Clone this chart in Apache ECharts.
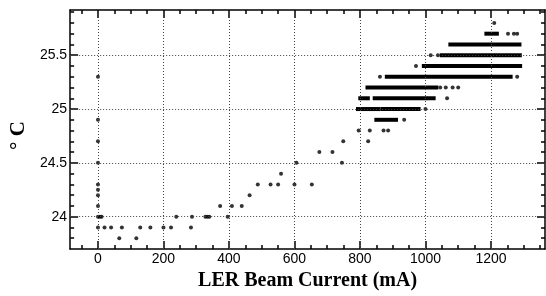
<!DOCTYPE html>
<html>
<head>
<meta charset="utf-8">
<script src="https://cdn.jsdelivr.net/npm/echarts@6/dist/echarts.min.js"></script>
<style>
  html, body { margin: 0; padding: 0; background: #fff; }
  #chart { width: 546px; height: 296px; }
</style>
</head>
<body>
<div id="chart"></div>
<script>
// tick positions
const majorX = [0, 200, 400, 600, 800, 1000, 1200];
const minorX = [-50, 50, 100, 150, 250, 300, 350, 450, 500, 550, 650, 700, 750, 850, 900, 950, 1050, 1100, 1150, 1250, 1300, 1350];
const majorY = [24, 24.5, 25, 25.5];
const minorY = [23.8, 23.9, 24.1, 24.2, 24.3, 24.4, 24.6, 24.7, 24.8, 24.9, 25.1, 25.2, 25.3, 25.4, 25.6, 25.7, 25.8, 25.9];

// single readings: beam current (mA) and temperature (C)
const dotCurrent = [0, 0, 0, 0, 0, 0, 0, 0, 0, 6, 11, 0,
  20, 40, 73, 129, 160, 200, 223, 284,
  65, 117,
  239, 287, 328, 334, 340, 396,
  373, 409, 439,
  463,
  488, 527, 550, 600, 653,
  559,
  606, 745,
  676, 716,
  749, 825,
  796, 830, 872, 886,
  935, 1000, 1066,
  1045, 1062, 1083, 1100,
  861, 1280,
  971,
  1016, 1038,
  1252, 1270, 1280,
  1210];
const dotTemp = [25.3, 24.9, 24.7, 24.5, 24.3, 24.25, 24.2, 24.1, 24.0, 24.0, 24.0, 23.9,
  23.9, 23.9, 23.9, 23.9, 23.9, 23.9, 23.9, 23.9,
  23.8, 23.8,
  24.0, 24.0, 24.0, 24.0, 24.0, 24.0,
  24.1, 24.1, 24.1,
  24.2,
  24.3, 24.3, 24.3, 24.3, 24.3,
  24.4,
  24.5, 24.5,
  24.6, 24.6,
  24.7, 24.7,
  24.8, 24.8, 24.8, 24.8,
  24.9, 25.0, 25.1,
  25.2, 25.2, 25.2, 25.2,
  25.3, 25.3,
  25.4,
  25.5, 25.5,
  25.7, 25.7, 25.7,
  25.8];

// dense runs of readings (start current, end current, temperature)
const runStart = [850, 794, 869, 801, 845, 823, 882, 995, 1050, 1076, 1186];
const runEnd = [910, 857, 979, 824, 1025, 1033, 1260, 1289, 1288, 1287, 1218];
const runTemp = [24.9, 25.0, 25.0, 25.1, 25.1, 25.2, 25.3, 25.4, 25.5, 25.6, 25.7];

const X_MIN = -85, X_MAX = 1365, Y_MIN = 23.7, Y_MAX = 25.92;
const labelFont = "'Liberation Sans', Arial, sans-serif";
const nameFont = "'Liberation Serif', 'Times New Roman', serif";

function xAxisDef(pos, ticks, len, showLine, showLabel) {
    return {
        type: "value",
        position: pos,
        min: X_MIN,
        max: X_MAX,
        axisLine: { show: showLine, onZero: false, lineStyle: { color: "#000", width: 1.5 } },
        axisTick: { show: true, inside: true, length: len, customValues: ticks, lineStyle: { color: "#000", width: 1.5 } },
        axisLabel: {
            show: showLabel, customValues: majorX, color: "#000", fontSize: 14, fontFamily: labelFont, margin: 3,
            formatter: v => String(v)
        },
        splitLine: { show: false }
    };
}

function yAxisDef(pos, ticks, len, showLine, showLabel) {
    return {
        type: "value",
        position: pos,
        min: Y_MIN,
        max: Y_MAX,
        axisLine: { show: showLine, onZero: false, lineStyle: { color: "#000", width: 1.5 } },
        axisTick: { show: true, inside: true, length: len, customValues: ticks, lineStyle: { color: "#000", width: 1.5 } },
        axisLabel: {
            show: showLabel, customValues: majorY, color: "#000", fontSize: 14, fontFamily: labelFont, margin: 3,
            formatter: v => String(v)
        },
        splitLine: { show: false }
    };
}

const xAxes = [
    xAxisDef("bottom", majorX, 8, true, true),
    xAxisDef("bottom", minorX, 4, false, false),
    xAxisDef("top", majorX, 8, true, false),
    xAxisDef("top", minorX, 4, false, false)
];
xAxes[0].name = "LER Beam Current (mA)";
xAxes[0].nameLocation = "middle";
xAxes[0].nameGap = 18;
xAxes[0].nameTextStyle = { fontFamily: nameFont, fontWeight: "bold", fontSize: 20, color: "#000" };

const yAxes = [
    yAxisDef("left", majorY, 8, true, true),
    yAxisDef("left", minorY, 4, false, false),
    yAxisDef("right", majorY, 8, true, false),
    yAxisDef("right", minorY, 4, false, false)
];
yAxes[0].name = "° C";
yAxes[0].nameLocation = "middle";
yAxes[0].nameGap = 40;
yAxes[0].nameTextStyle = { fontFamily: nameFont, fontWeight: "bold", fontSize: 21, color: "#000", padding: [0, 12, 0, 0] };

const dots = dotCurrent.map((c, i) => [c, dotTemp[i]]);
const runs = runStart.map((s, i) => [s, runEnd[i], runTemp[i]]);

const gridLines = majorX.map(v => ({ xAxis: v })).concat(majorY.map(v => ({ yAxis: v })));

const chart = echarts.init(document.getElementById("chart"), null, { renderer: "canvas" });
chart.setOption({
    animation: false,
    backgroundColor: "#fff",
    grid: { left: 70, right: 1, top: 10, bottom: 47, containLabel: false },
    xAxis: xAxes,
    yAxis: yAxes,
    series: [
        {
            type: "scatter",
            xAxisIndex: 0,
            yAxisIndex: 0,
            symbol: "circle",
            symbolSize: 4,
            itemStyle: { color: "#000" },
            data: dots,
            markLine: {
                silent: true,
                symbol: ["none", "none"],
                label: { show: false },
                lineStyle: { color: "#444", width: 1, type: [1, 2] },
                data: gridLines
            }
        },
        {
            type: "custom",
            xAxisIndex: 0,
            yAxisIndex: 0,
            encode: { x: [0, 1], y: 2 },
            data: runs,
            renderItem: function (params, api) {
                const a = api.coord([api.value(0), api.value(2)]);
                const b = api.coord([api.value(1), api.value(2)]);
                return {
                    type: "rect",
                    shape: { x: a[0] - 2, y: a[1] - 2, width: b[0] - a[0] + 4, height: 4 },
                    style: { fill: "#000" }
                };
            }
        }
    ]
});
</script>
</body>
</html>
